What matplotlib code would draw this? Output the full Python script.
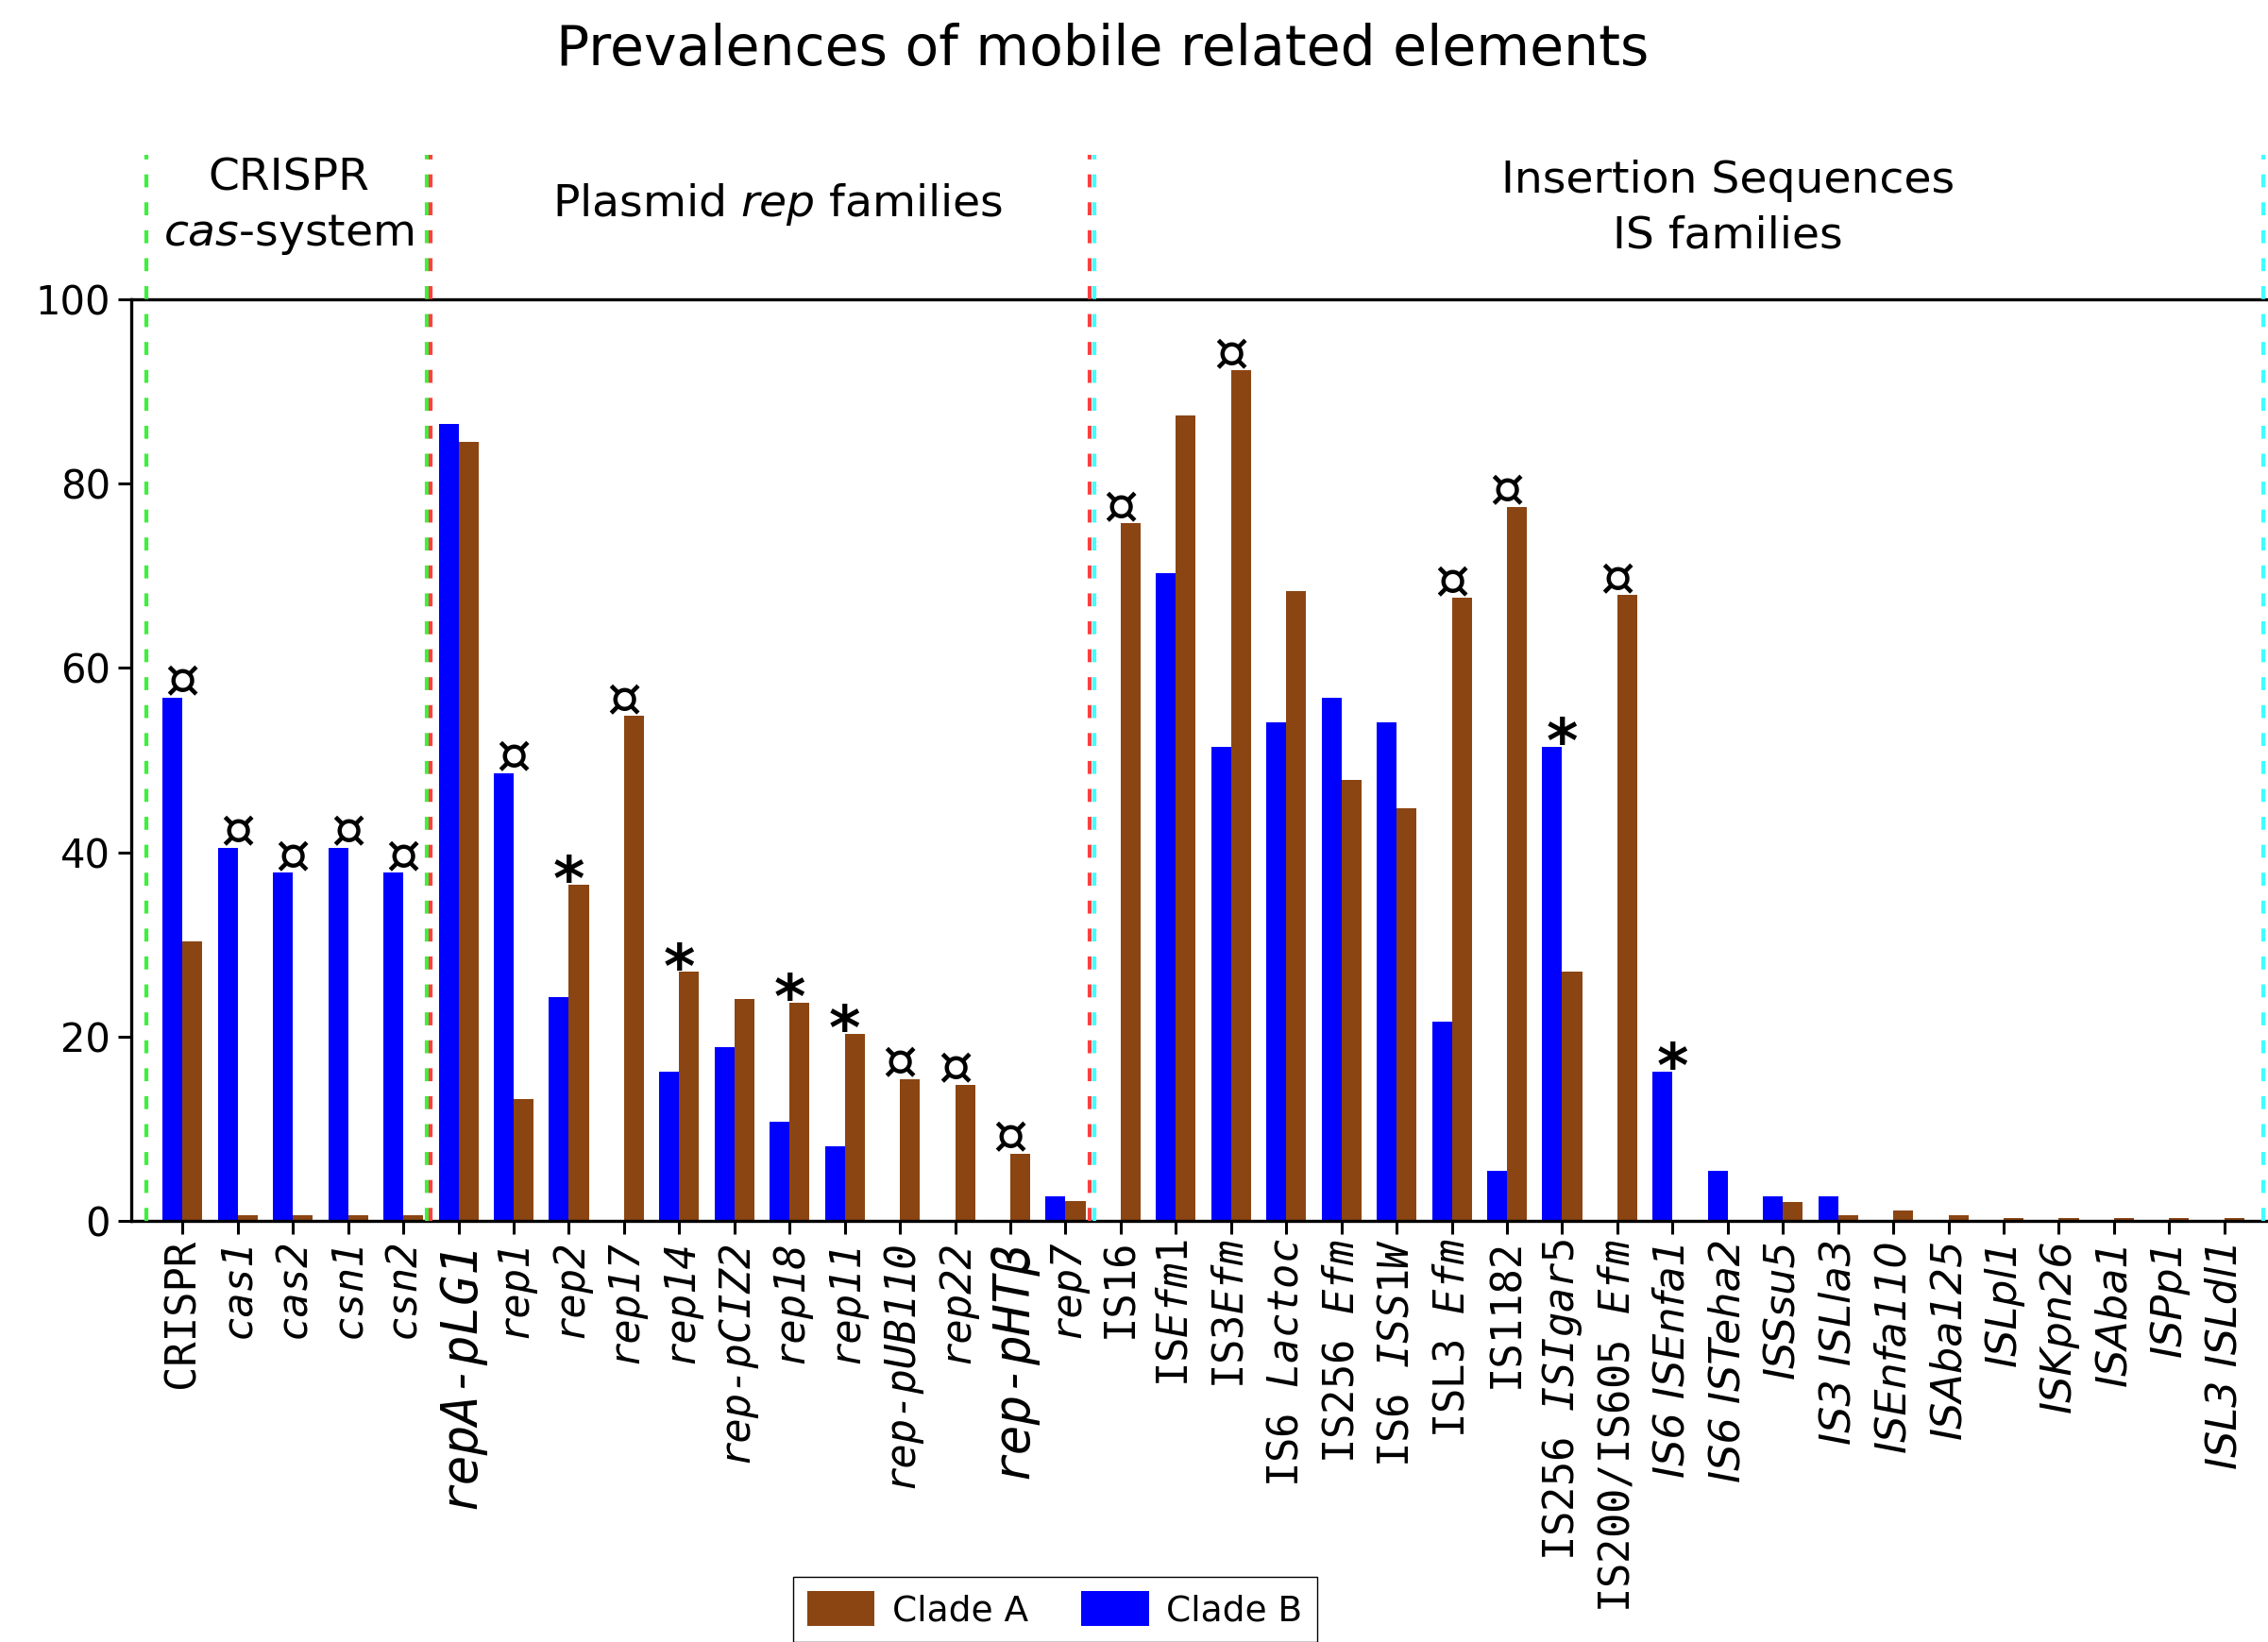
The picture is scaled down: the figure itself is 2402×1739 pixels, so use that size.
import matplotlib
matplotlib.use("Agg")
import matplotlib.pyplot as plt
import numpy as np

plt.rcParams["font.family"] = "DejaVu Sans"
# mono fonts for the math parts of the tick labels
plt.rcParams["mathtext.rm"] = "DejaVu Sans Mono"
plt.rcParams["mathtext.it"] = "DejaVu Sans Mono:italic"
plt.rcParams["mathtext.bf"] = "DejaVu Sans Mono:bold"

labels = ["CRISPR", "cas1", "cas2", "csn1", "csn2",
          "repA-pLG1", "rep1", "rep2", "rep17", "rep14", "rep-pCIZ2", "rep18",
          "rep11", "rep-pUB110", "rep22", "rep-pHTβ", "rep7",
          "IS16", r"IS$\mathit{Efm1}$", r"IS3$\mathit{Efm}$", r"IS6 $\mathit{Lactoc}$",
          r"IS256 $\mathit{Efm}$", r"IS6 $\mathit{ISS1W}$", r"ISL3 $\mathit{Efm}$",
          "IS1182", r"IS256 $\mathit{ISIgar5}$", r"IS200/IS605 $\mathit{Efm}$",
          "IS6 ISEnfa1", "IS6 ISTeha2", "ISSsu5", "IS3 ISLla3", "ISEnfa110",
          "ISAba125", "ISLpl1", "ISKpn26", "ISAba1", "ISPp1", "ISL3 ISLdl1"]

clade_a = [30.3, 0.6, 0.6, 0.6, 0.6,
           84.5, 13.2, 36.5, 54.8, 27.0, 24.1, 23.7, 20.3, 15.4, 14.8, 7.3, 2.2,
           75.7, 87.4, 92.3, 68.3, 47.8, 44.8, 67.6, 77.5, 27.0, 67.9,
           0, 0, 2.0, 0.6, 1.1, 0.6, 0.3, 0.3, 0.3, 0.3, 0.3]

clade_b = [56.8, 40.5, 37.8, 40.5, 37.8,
           86.5, 48.6, 24.3, 0, 16.2, 18.9, 10.8, 8.1, 0, 0, 0, 2.7,
           0, 70.3, 51.4, 54.1, 56.8, 54.1, 21.6, 5.4, 51.4, 0,
           16.2, 5.4, 2.7, 2.7, 0, 0, 0, 0, 0, 0, 0]

# significance marks drawn above each pair
marks = ["¤", "¤", "¤", "¤", "¤",
         "", "¤", "*", "¤", "*", "", "*", "*", "¤", "¤", "¤", "",
         "¤", "", "¤", "", "", "", "¤", "¤", "*", "¤",
         "*", "", "", "", "", "", "", "", "", "", ""]

groups = ["CRISPR\n$\\it{cas}$-system", "Plasmid $\\it{rep}$ families",
          "Insertion Sequences\nIS families"]

mono_italic = set(range(1, 17))
sans_italic = set(range(27, 38))
bigger = {5, 15}

brown = "#8b4513"
blue = "#0000ff"

fig = plt.figure(figsize=(24.02, 17.39), dpi=100)
ax = fig.add_axes([139 / 2402, 1 - 1293 / 1739, 1 - 139 / 2402, (1293 - 317) / 1739])

x = np.arange(len(labels))
w = 0.36
bars_b = ax.bar(x - w / 2, clade_b, w, color=blue, label="Clade B")
bars_a = ax.bar(x + w / 2, clade_a, w, color=brown, label="Clade A")

for i, m in enumerate(marks):
    if not m:
        continue
    top = max(clade_a[i], clade_b[i])
    if m == "*":
        ax.text(x[i], top + 0.2, m, ha="center", va="center", fontsize=46,
                fontweight="bold")
    else:
        ax.text(x[i], top + 1.6, m, ha="center", va="center", fontsize=42)

# section separators
seps = [(-0.65, "#3cf03c"), (4.42, "#3cf03c"), (4.50, "#ff4040"),
        (16.44, "#ff4040"), (16.52, "#40ffff"), (37.71, "#40ffff")]
for xs, c in seps:
    ax.plot([xs, xs], [0, 115.7], color=c, lw=3, dashes=(3.3, 3.8),
            clip_on=False, zorder=3)

ax.text(1.93, 110.0, groups[0], ha="center", va="center", fontsize=34,
        linespacing=1.38)
ax.text(10.79, 110.3, groups[1], ha="center", va="center", fontsize=34)
ax.text(28.0, 109.9, groups[2], ha="center", va="center", fontsize=34,
        linespacing=1.38)

ax.set_xlim(-0.93, 37.79)
ax.set_ylim(0, 100)
ax.set_yticks([0, 20, 40, 60, 80, 100])
ax.tick_params(axis="y", labelsize=30, width=2.2, length=10, pad=6)
ax.tick_params(axis="x", width=2.2, length=10)
ax.set_xticks(x)
ax.set_xticklabels(labels, rotation=90, fontsize=31.5, family="DejaVu Sans Mono")
for i, t in enumerate(ax.get_xticklabels()):
    t.set_math_fontfamily("custom")
    if i in mono_italic:
        t.set_fontstyle("italic")
    if i in sans_italic:
        t.set_family("DejaVu Sans")
        t.set_fontstyle("italic")
        t.set_fontsize(32)
    if i in bigger:
        t.set_fontsize(38)

for s in ["left", "bottom", "top"]:
    ax.spines[s].set_linewidth(2.4)
ax.spines["right"].set_visible(False)

fig.text(0.486, 0.97, "Prevalences of mobile related elements", ha="center",
         va="center", fontsize=42)

fig.legend([bars_a, bars_b], ["Clade A", "Clade B"], loc="upper left",
           bbox_to_anchor=(840 / 2402, 1 - 1670 / 1739), borderaxespad=0,
           ncol=2, fontsize=27, frameon=True, fancybox=False,
           edgecolor="black", handlelength=1.9, handleheight=1.15,
           handletextpad=0.5, columnspacing=1.5, framealpha=1)

fig.savefig("out.png", dpi=100)
